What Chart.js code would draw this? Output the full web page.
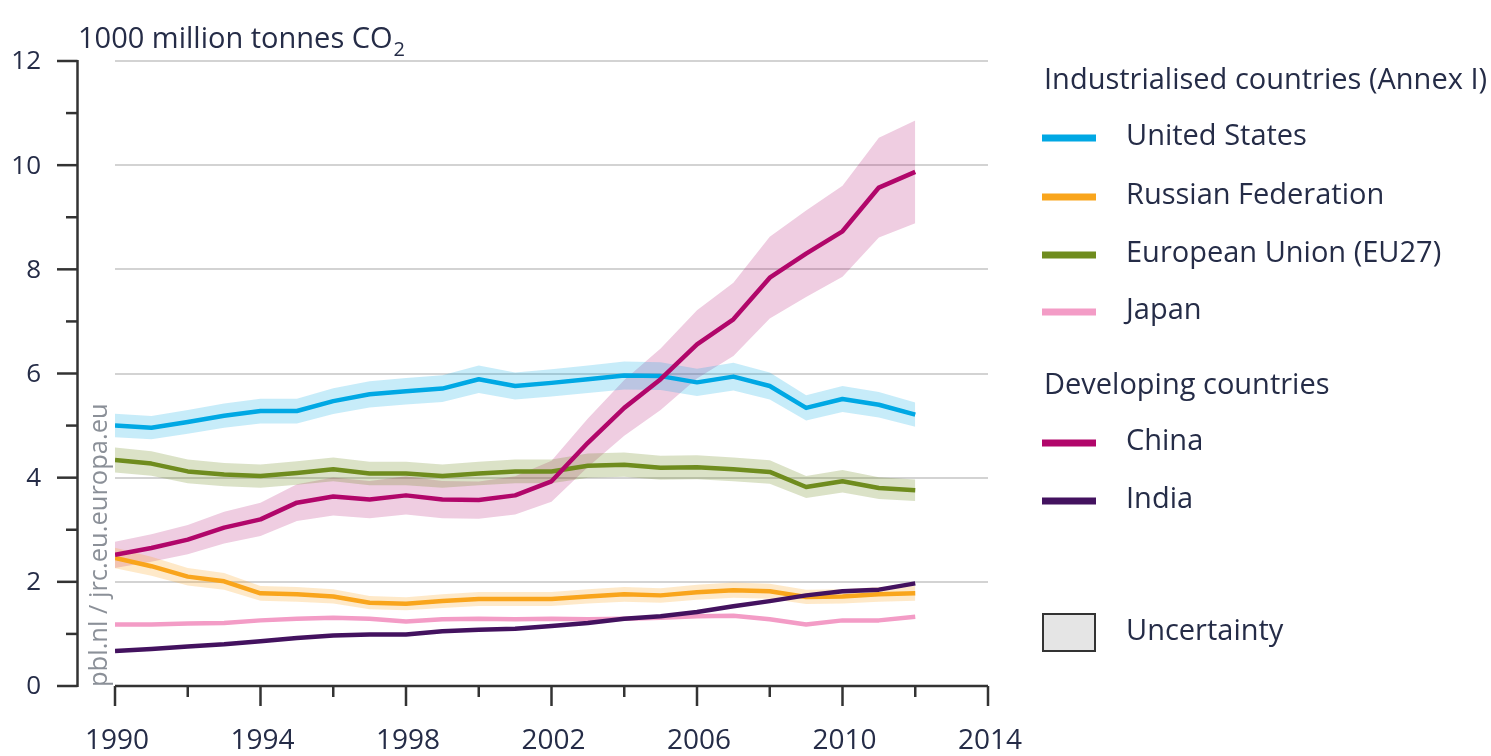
<!DOCTYPE html>
<html>
<head>
<meta charset="utf-8">
<script src="https://cdn.jsdelivr.net/npm/chart.js@4.4.1/dist/chart.umd.min.js"></script>
<style>
  html, body { margin: 0; padding: 0; background: #fff; }
  canvas { display: block; }
</style>
</head>
<body>
<canvas id="co2" width="1491" height="756"></canvas>
<script>
// data (1000 million tonnes CO2)
const years = [1990, 1991, 1992, 1993, 1994, 1995, 1996, 1997, 1998, 1999, 2000, 2001,
  2002, 2003, 2004, 2005, 2006, 2007, 2008, 2009, 2010, 2011, 2012];
const unitedStates = [5.00, 4.96, 5.07, 5.19, 5.28, 5.28, 5.47, 5.60, 5.66, 5.71, 5.89, 5.76,
  5.82, 5.89, 5.96, 5.95, 5.83, 5.94, 5.76, 5.34, 5.51, 5.40, 5.21];
const russia = [2.46, 2.30, 2.10, 2.01, 1.78, 1.76, 1.72, 1.60, 1.58, 1.63, 1.67, 1.67,
  1.67, 1.72, 1.76, 1.74, 1.80, 1.84, 1.82, 1.71, 1.72, 1.76, 1.78];
const eu27 = [4.34, 4.27, 4.12, 4.06, 4.03, 4.09, 4.16, 4.08, 4.08, 4.03, 4.08, 4.12,
  4.12, 4.23, 4.25, 4.19, 4.20, 4.16, 4.11, 3.82, 3.93, 3.80, 3.76];
const japan = [1.18, 1.18, 1.20, 1.21, 1.26, 1.29, 1.31, 1.29, 1.24, 1.28, 1.29, 1.28,
  1.29, 1.28, 1.29, 1.31, 1.34, 1.35, 1.28, 1.18, 1.26, 1.26, 1.33];
const china = [2.52, 2.65, 2.81, 3.04, 3.20, 3.52, 3.64, 3.58, 3.66, 3.58, 3.57, 3.66,
  3.93, 4.67, 5.34, 5.89, 6.56, 7.04, 7.84, 8.30, 8.73, 9.57, 9.87];
const india = [0.67, 0.71, 0.76, 0.80, 0.86, 0.92, 0.97, 0.99, 0.99, 1.05, 1.08, 1.10,
  1.15, 1.21, 1.29, 1.34, 1.42, 1.53, 1.63, 1.74, 1.82, 1.85, 1.97];

// relative uncertainty of each series (half width of the band)
const uncertainty = [0.045, 0.08, 0.055, 0, 0.10, 0];

const seriesNames = ["United States", "Russian Federation", "European Union (EU27)", "Japan", "China", "India"];
const seriesValues = [unitedStates, russia, eu27, japan, china, india];
const lineColors = ["#00a8e4", "#f9a51c", "#6f8c1e", "#f39cc6", "#b1066a", "#43125f"];
const bandColors = ["rgba(0,168,228,0.22)", "rgba(249,165,28,0.24)", "rgba(111,140,30,0.25)",
  "rgba(243,156,198,0.22)", "rgba(177,6,106,0.2)", "rgba(67,18,95,0.2)"];

const yMajorTicks = [0, 2, 4, 6, 8, 10, 12];
const yMinorTicks = [1, 3, 5, 7, 9, 11];
const xMajorTicks = [1990, 1994, 1998, 2002, 2006, 2010, 2014];
const xMinorTicks = [1992, 1996, 2000, 2004, 2008, 2012];

const textColor = "#252c47";
const axisColor = "#333333";
const fontFamily = "'Open Sans', 'DejaVu Sans', sans-serif";

function toPoints(values, factor) {
  return values.map((v, i) => ({ x: years[i], y: v * factor }));
}

// build datasets: bands first (drawn underneath), then the lines
let datasets = [];
seriesValues.forEach((values, i) => {
  if (uncertainty[i] > 0) {
    datasets.push({
      data: toPoints(values, 1 + uncertainty[i]),
      borderWidth: 0,
      pointRadius: 0,
      fill: false,
      order: 20,
    });
    datasets.push({
      data: toPoints(values, 1 - uncertainty[i]),
      borderWidth: 0,
      pointRadius: 0,
      fill: "-1",
      backgroundColor: bandColors[i],
      order: 20,
    });
  }
});
seriesValues.forEach((values, i) => {
  datasets.push({
    label: seriesNames[i],
    data: toPoints(values, 1),
    borderColor: lineColors[i],
    borderWidth: 4.5,
    borderJoinStyle: "round",
    borderCapStyle: "butt",
    pointRadius: 0,
    tension: 0,
    fill: false,
    order: 10 - i,
  });
});

// grid lines behind the data
const gridPlugin = {
  id: "grid",
  beforeDatasetsDraw(chart) {
    const ctx = chart.ctx;
    const x = chart.scales.x;
    const y = chart.scales.y;
    ctx.save();
    ctx.strokeStyle = "#d3d3d3";
    ctx.lineWidth = 2;
    yMajorTicks.forEach(t => {
      if (t === 0) return;
      const py = Math.round(y.getPixelForValue(t));
      ctx.beginPath();
      ctx.moveTo(x.left, py);
      ctx.lineTo(x.right, py);
      ctx.stroke();
    });
    ctx.restore();
  }
};

// axes, labels, title, source text and legend
const decorPlugin = {
  id: "decor",
  afterDraw(chart) {
    const ctx = chart.ctx;
    const x = chart.scales.x;
    const y = chart.scales.y;
    const yAxisX = 77.5;
    const xAxisY = Math.round(y.getPixelForValue(0));
    ctx.save();

    // y axis
    ctx.strokeStyle = axisColor;
    ctx.lineWidth = 2.5;
    ctx.beginPath();
    ctx.moveTo(yAxisX, y.getPixelForValue(12) - 1);
    ctx.lineTo(yAxisX, xAxisY + 1);
    ctx.stroke();
    yMajorTicks.forEach(t => {
      const py = y.getPixelForValue(t);
      ctx.beginPath();
      ctx.moveTo(57, py);
      ctx.lineTo(yAxisX, py);
      ctx.stroke();
    });
    yMinorTicks.forEach(t => {
      const py = y.getPixelForValue(t);
      ctx.beginPath();
      ctx.moveTo(66, py);
      ctx.lineTo(yAxisX, py);
      ctx.stroke();
    });

    // x axis
    ctx.beginPath();
    ctx.moveTo(x.getPixelForValue(1990), xAxisY);
    ctx.lineTo(x.getPixelForValue(2014), xAxisY);
    ctx.stroke();
    xMajorTicks.forEach(t => {
      const px = x.getPixelForValue(t);
      ctx.beginPath();
      ctx.moveTo(px, xAxisY);
      ctx.lineTo(px, xAxisY + 20);
      ctx.stroke();
    });
    xMinorTicks.forEach(t => {
      const px = x.getPixelForValue(t);
      ctx.beginPath();
      ctx.moveTo(px, xAxisY);
      ctx.lineTo(px, xAxisY + 11);
      ctx.stroke();
    });

    // tick labels
    ctx.fillStyle = textColor;
    ctx.font = "26px " + fontFamily;
    ctx.textAlign = "right";
    ctx.textBaseline = "middle";
    yMajorTicks.forEach(t => {
      ctx.fillText(String(t), 41, y.getPixelForValue(t) + 1);
    });
    ctx.font = "28px " + fontFamily;
    ctx.textAlign = "center";
    xMajorTicks.forEach(t => {
      ctx.fillText(String(t), x.getPixelForValue(t) + 2, 741);
    });

    // axis title with subscript
    ctx.textAlign = "left";
    ctx.font = "29px " + fontFamily;
    const title = "1000 million tonnes CO";
    ctx.fillText(title, 78, 40);
    const tw = ctx.measureText(title).width;
    ctx.font = "20px " + fontFamily;
    ctx.fillText("2", 78 + tw + 1, 50);

    // source text, rotated
    ctx.save();
    ctx.translate(100, 687);
    ctx.rotate(-Math.PI / 2);
    ctx.fillStyle = "#8b9098";
    ctx.font = "25.5px " + fontFamily;
    ctx.textAlign = "left";
    ctx.textBaseline = "middle";
    ctx.fillText("pbl.nl / jrc.eu.europa.eu", 0, 0);
    ctx.restore();

    // legend
    const swatchLeft = 1042;
    const swatchRight = 1096;
    const textLeft = 1126;
    ctx.font = "29px " + fontFamily;
    ctx.fillStyle = textColor;
    ctx.textAlign = "left";
    ctx.textBaseline = "middle";
    ctx.fillText("Industrialised countries (Annex I)", 1044, 81);
    ctx.fillText("Developing countries", 1044, 386);

    const legendRows = [137, 196, 254, 311, 442, 500];
    seriesNames.forEach((name, i) => {
      const ry = legendRows[i];
      ctx.strokeStyle = lineColors[i];
      ctx.lineWidth = 7;
      ctx.beginPath();
      ctx.moveTo(swatchLeft, ry + 1);
      ctx.lineTo(swatchRight, ry + 1);
      ctx.stroke();
      ctx.fillStyle = textColor;
      ctx.fillText(name, textLeft, ry);
    });

    // uncertainty box
    ctx.fillStyle = "#e5e5e5";
    ctx.fillRect(1043, 614, 52, 37);
    ctx.strokeStyle = axisColor;
    ctx.lineWidth = 2;
    ctx.strokeRect(1043, 614, 52, 37);
    ctx.fillStyle = textColor;
    ctx.fillText("Uncertainty", textLeft, 632);

    ctx.restore();
  }
};

const ctx = document.getElementById("co2").getContext("2d");
new Chart(ctx, {
  type: "line",
  data: { datasets: datasets },
  options: {
    responsive: false,
    animation: false,
    devicePixelRatio: 1,
    layout: {
      padding: { left: 115, right: 503, top: 61, bottom: 70 }
    },
    scales: {
      x: { type: "linear", min: 1990, max: 2014, display: false },
      y: { type: "linear", min: 0, max: 12, display: false },
    },
    plugins: {
      legend: { display: false },
      tooltip: { enabled: false },
    },
  },
  plugins: [gridPlugin, decorPlugin],
});
</script>
</body>
</html>
